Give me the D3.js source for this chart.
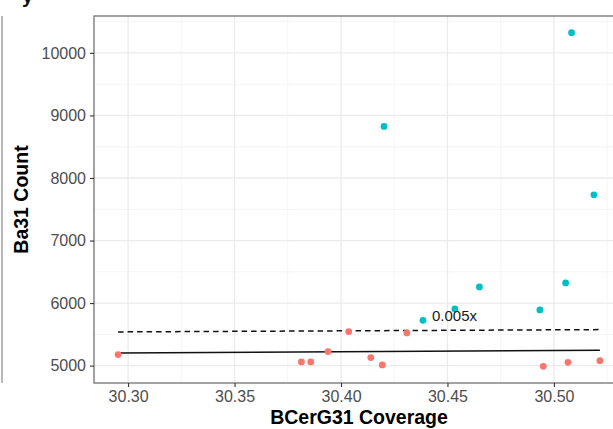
<!DOCTYPE html>
<html>
<head>
<meta charset="utf-8">
<script src="https://cdn.jsdelivr.net/npm/d3@7/dist/d3.min.js"></script>
<style>
  html, body { margin: 0; padding: 0; background: #fff; }
  svg { display: block; font-family: "Liberation Sans", Arial, Helvetica, sans-serif; }
</style>
</head>
<body>
<svg id="chart" width="613" height="429"></svg>
<script>
// Coverage (x) and read count (y) for each sample, split by group
const redCoverage = [30.2953, 30.3814, 30.3858, 30.3939, 30.4036, 30.4140, 30.4194, 30.4309, 30.4950, 30.5066, 30.5216];
const redCount    = [5176, 5059, 5059, 5224, 5544, 5128, 5011, 5523, 4989, 5053, 5080];
const cyanCoverage = [30.5083, 30.4202, 30.5188, 30.4650, 30.5055, 30.4385, 30.4535, 30.4934];
const cyanCount    = [10323, 8824, 7731, 6259, 6323, 5725, 5907, 5891];

// Fitted lines (endpoints in data units)
const solidFitX = [30.2953, 30.5216];
const solidFitY = [5203, 5245];
const dashedFitX = [30.2953, 30.5216];
const dashedFitY = [5539, 5576];

const xTicks = [30.30, 30.35, 30.40, 30.45, 30.50];
const yTicks = [5000, 6000, 7000, 8000, 9000, 10000];
const xMinor = [30.275, 30.325, 30.375, 30.425, 30.475, 30.525];
const yMinor = [4500, 5500, 6500, 7500, 8500, 9500, 10500];

const slopeLabel = "0.005x";
const slopeLabelPos = [30.4385, 5725];
const xTitle = "BCerG31 Coverage";
const yTitle = "Ba31 Count";

const svg = d3.select("#chart");
const panel = { left: 94, top: 16, right: 624, bottom: 383 };

// Limits expanded by 5% of the data range on each side
function expanded(vals) {
  const [lo, hi] = d3.extent(vals);
  const pad = (hi - lo) * 0.05;
  return [lo - pad, hi + pad];
}
const allX = redCoverage.concat(cyanCoverage);
const allY = redCount.concat(cyanCount);

const x = d3.scaleLinear().domain(expanded(allX)).range([panel.left, panel.right]);
const y = d3.scaleLinear().domain(expanded(allY)).range([panel.bottom, panel.top]);

svg.append("defs").append("clipPath").attr("id", "panelClip")
  .append("rect")
  .attr("x", panel.left).attr("y", panel.top)
  .attr("width", panel.right - panel.left).attr("height", panel.bottom - panel.top);

// Edge of the neighbouring panel and a clipped title fragment
svg.append("line")
  .attr("x1", 2).attr("x2", 2).attr("y1", panel.top).attr("y2", panel.bottom)
  .attr("stroke", "#8a8a8a").attr("stroke-width", 1.2);
svg.append("text")
  .attr("x", 22).attr("y", 3)
  .attr("font-size", 20).attr("font-weight", "bold").attr("fill", "#111")
  .text("y");

const grid = svg.append("g").attr("clip-path", "url(#panelClip)");

// Minor grid
grid.selectAll(".xminor").data(xMinor).join("line")
  .attr("x1", d => x(d)).attr("x2", d => x(d))
  .attr("y1", panel.top).attr("y2", panel.bottom)
  .attr("stroke", "#f2f2f2").attr("stroke-width", 0.8);
grid.selectAll(".yminor").data(yMinor).join("line")
  .attr("y1", d => y(d)).attr("y2", d => y(d))
  .attr("x1", panel.left).attr("x2", panel.right)
  .attr("stroke", "#f2f2f2").attr("stroke-width", 0.8);

// Major grid
grid.selectAll(".xmajor").data(xTicks).join("line")
  .attr("x1", d => x(d)).attr("x2", d => x(d))
  .attr("y1", panel.top).attr("y2", panel.bottom)
  .attr("stroke", "#ebebeb").attr("stroke-width", 1.3);
grid.selectAll(".ymajor").data(yTicks).join("line")
  .attr("y1", d => y(d)).attr("y2", d => y(d))
  .attr("x1", panel.left).attr("x2", panel.right)
  .attr("stroke", "#ebebeb").attr("stroke-width", 1.3);

const plot = svg.append("g").attr("clip-path", "url(#panelClip)");

const line = d3.line().x(d => x(d[0])).y(d => y(d[1]));

plot.append("path")
  .datum(d3.zip(solidFitX, solidFitY))
  .attr("d", line)
  .attr("fill", "none").attr("stroke", "#111").attr("stroke-width", 1.4);

plot.append("path")
  .datum(d3.zip(dashedFitX, dashedFitY))
  .attr("d", line)
  .attr("fill", "none").attr("stroke", "#111").attr("stroke-width", 1.5)
  .attr("stroke-dasharray", "5.5,4");

plot.selectAll(".red").data(d3.zip(redCoverage, redCount)).join("circle")
  .attr("cx", d => x(d[0])).attr("cy", d => y(d[1])).attr("r", 3.4)
  .attr("fill", "#F8766D");

plot.selectAll(".cyan").data(d3.zip(cyanCoverage, cyanCount)).join("circle")
  .attr("cx", d => x(d[0])).attr("cy", d => y(d[1])).attr("r", 3.4)
  .attr("fill", "#00BFC4");

plot.append("text")
  .attr("x", x(slopeLabelPos[0]) + 9).attr("y", y(slopeLabelPos[1]) + 1)
  .attr("font-size", 15).attr("fill", "#1a1a1a")
  .text(slopeLabel);

// Panel border
svg.append("rect")
  .attr("x", panel.left).attr("y", panel.top)
  .attr("width", panel.right - panel.left).attr("height", panel.bottom - panel.top)
  .attr("fill", "none").attr("stroke", "#666").attr("stroke-width", 1.2);

// Axes
const xAxis = svg.append("g")
  .attr("transform", `translate(0,${panel.bottom})`)
  .call(d3.axisBottom(x).tickValues(xTicks).tickFormat(d3.format(".2f")).tickSizeOuter(0).tickSize(4).tickPadding(4));
const yAxis = svg.append("g")
  .attr("transform", `translate(${panel.left},0)`)
  .call(d3.axisLeft(y).tickValues(yTicks).tickFormat(d3.format("d")).tickSizeOuter(0).tickSize(4).tickPadding(4));

[xAxis, yAxis].forEach(a => {
  a.select(".domain").remove();
  a.selectAll(".tick line").attr("stroke", "#333").attr("stroke-width", 1.1);
  a.selectAll(".tick text")
    .attr("fill", "#4d4d4d")
    .attr("font-size", 16)
    .attr("font-family", "Liberation Sans, Arial, sans-serif");
});

svg.append("text")
  .attr("x", (panel.left + panel.right) / 2).attr("y", 424)
  .attr("text-anchor", "middle")
  .attr("font-size", 19.5).attr("font-weight", "bold").attr("fill", "#000")
  .text(xTitle);

svg.append("text")
  .attr("transform", `translate(28,${(panel.top + panel.bottom) / 2}) rotate(-90)`)
  .attr("text-anchor", "middle")
  .attr("font-size", 19.5).attr("font-weight", "bold").attr("fill", "#000")
  .text(yTitle);
</script>
</body>
</html>
